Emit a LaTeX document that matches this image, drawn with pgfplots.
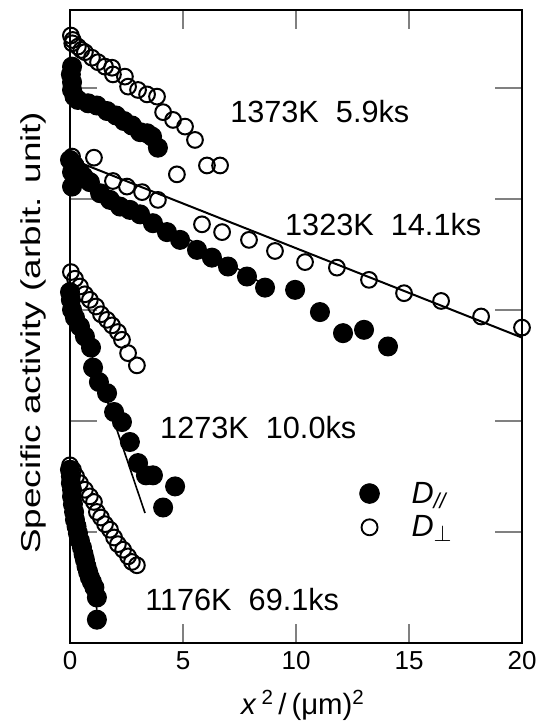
\documentclass[border=0pt]{standalone}
\usepackage{pgfplots}
\pgfplotsset{compat=1.18}
\usepackage{fontspec}
\setmainfont{Liberation Sans}
\usepackage{graphicx}
\begin{document}
\begin{tikzpicture}
\begin{axis}[
  scale only axis, width=339pt, height=474.75pt,
  xmin=0, xmax=20, ymin=0, ymax=5.7,
  clip=false,
  axis line style={line width=1.8pt},
  tick align=inside,
  xtick={0,5,10,15,20}, xticklabels={0,5,10,15,20},
  ytick={1,2,3,4,5}, yticklabels={},
  xtick style={line width=1.8pt, /pgfplots/major tick length=14pt},
  ytick style={line width=1.8pt, /pgfplots/major tick length=20pt},
  /pgf/number format/assume math mode=true,
  xticklabel style={font=\fontsize{19.5}{21}\selectfont, yshift=-3pt},
  xlabel={\textit{x}\,\textsuperscript{2}\,/\,(μm)\textsuperscript{2}},
  xlabel style={font=\fontsize{22}{24}\selectfont, at={(axis description cs:0.515,-0.098)}, anchor=center},
  ylabel={\scalebox{1.35}[1]{Specific activity (arbit. unit)}},
  ylabel style={font=\fontsize{20.5}{22}\selectfont, at={(axis description cs:-0.082,0.49)}, anchor=center},
  legend style={draw=none, fill=none, at={(axis description cs:0.64,0.259)}, anchor=north west, inner sep=0pt, row sep=4pt, font=\fontsize{23}{24}\selectfont},
  legend cell align=left,
]
\coordinate (SW) at (rel axis cs:0,0);
\coordinate (NE) at (rel axis cs:1,1);
\addlegendimage{only marks, mark=*, mark size=7.5pt, mark options={fill=black}}
\addlegendentry{\hspace*{22pt}\textit{D}\textsubscript{\textit{//}}}
\addlegendimage{only marks, mark=o, mark size=6pt, mark options={line width=1.4pt}}
\addlegendentry{\hspace*{22pt}\textit{D}\textsubscript{$\perp$}}

% fit lines
\addplot[forget plot, line width=1.5pt, black] coordinates {(0,4.36) (20,2.75)};
\addplot[forget plot, line width=1.2pt, black] coordinates {(0,4.28) (8.8,3.20)};
\addplot[forget plot, line width=1.2pt, black] coordinates {(0,3.17) (3.32,1.17)};
\addplot[forget plot, line width=1.2pt, black] coordinates {(0,1.56) (1.19,0.30)};

% 1373K open
\addplot[forget plot, only marks, mark=o, mark size=5.9pt, mark options={line width=1.5pt}] coordinates {
(0.04,5.47)(0.10,5.40)(0.12,5.43)(0.35,5.37)(0.50,5.34)(0.66,5.32)(0.97,5.27)(1.24,5.23)(1.55,5.19)(1.86,5.18)(1.90,5.12)(2.43,5.10)(2.57,5.01)(3.01,4.98)(3.41,4.94)(3.85,4.92)(4.12,4.78)(4.56,4.71)(5.09,4.65)(5.53,4.53)(4.73,4.22)(6.06,4.30)(6.64,4.30)};
% 1373K filled
\addplot[forget plot, only marks, mark=*, mark size=7.1pt, mark options={fill=black, line width=0.8pt}] coordinates {
(0.09,5.19)(0.04,5.12)(0.09,5.05)(0.09,4.98)(0.20,4.92)(0.35,4.89)(0.80,4.86)(1.19,4.84)(1.64,4.79)(2.04,4.75)(2.39,4.70)(2.74,4.66)(3.10,4.60)(3.41,4.59)(3.63,4.56)(3.89,4.46)};

% 1323K open
\addplot[forget plot, only marks, mark=o, mark size=5.9pt, mark options={line width=1.5pt}] coordinates {
(0.09,4.38)(1.06,4.37)(1.90,4.16)(2.52,4.11)(3.19,4.06)(3.89,3.99)(5.84,3.77)(6.73,3.70)(7.92,3.63)(9.07,3.53)(10.40,3.43)(11.81,3.38)(13.23,3.27)(14.78,3.15)(16.42,3.08)(18.19,2.94)(20.0,2.84)};
% 1323K filled
\addplot[forget plot, only marks, mark=*, mark size=7.1pt, mark options={fill=black, line width=0.8pt}] coordinates {
(0.0,4.35)(0.2,4.30)(0.09,4.24)(0.09,4.11)(0.44,4.24)(0.6,4.20)(0.88,4.15)(1.33,4.05)(1.77,3.99)(2.21,3.93)(2.65,3.90)(3.10,3.86)(3.67,3.78)(4.29,3.70)(4.87,3.63)(5.62,3.54)(6.28,3.47)(6.99,3.39)(7.83,3.30)(8.63,3.20)(9.96,3.18)(11.06,2.98)(12.08,2.79)(13.01,2.82)(14.07,2.67)};

% 1273K open
\addplot[forget plot, only marks, mark=o, mark size=5.9pt, mark options={line width=1.5pt}] coordinates {
(0.04,3.34)(0.22,3.28)(0.44,3.21)(0.66,3.14)(0.88,3.09)(1.15,3.03)(1.37,2.96)(1.64,2.91)(1.86,2.86)(2.12,2.80)(2.30,2.73)(2.57,2.61)(2.96,2.50)};
% 1273K filled
\addplot[forget plot, only marks, mark=*, mark size=7.1pt, mark options={fill=black, line width=0.8pt}] coordinates {
(0.0,3.16)(0.04,3.09)(0.09,3.00)(0.22,2.93)(0.44,2.85)(0.66,2.76)(0.93,2.66)(1.02,2.48)(1.28,2.35)(1.64,2.25)(1.95,2.08)(2.30,1.99)(2.65,1.81)(3.01,1.62)(3.36,1.51)(3.67,1.51)(4.65,1.41)(4.12,1.22)};

% 1176K open
\addplot[forget plot, only marks, mark=o, mark size=5.9pt, mark options={line width=1.5pt}] coordinates {
(0.0,1.60)(0.13,1.56)(0.27,1.50)(0.44,1.44)(0.66,1.38)(0.88,1.32)(1.06,1.27)(1.19,1.18)(1.37,1.13)(1.55,1.07)(1.77,1.02)(1.95,0.95)(2.12,0.89)(2.35,0.84)(2.57,0.78)(2.74,0.73)(2.96,0.70)};
% 1176K filled
\addplot[forget plot, only marks, mark=*, mark size=7.1pt, mark options={fill=black, line width=0.8pt}] coordinates {
(0.0,1.56)(0.04,1.50)(0.04,1.44)(0.09,1.38)(0.09,1.32)(0.13,1.25)(0.18,1.18)(0.22,1.11)(0.29,1.05)(0.35,0.99)(0.44,0.92)(0.53,0.86)(0.60,0.80)(0.66,0.75)(0.73,0.69)(0.80,0.64)(0.88,0.59)(0.97,0.55)(1.08,0.50)(1.19,0.41)(1.19,0.21)};

\node[anchor=west, inner sep=0pt, font=\fontsize{23}{26}\selectfont] at (axis cs:7.08,4.79) {1373K\ \ 5.9ks};
\node[anchor=west, inner sep=0pt, font=\fontsize{23}{26}\selectfont] at (axis cs:9.51,3.77) {1323K\ \ 14.1ks};
\node[anchor=west, inner sep=0pt, font=\fontsize{23}{26}\selectfont] at (axis cs:3.98,1.94) {1273K\ \ 10.0ks};
\node[anchor=west, inner sep=0pt, font=\fontsize{23}{26}\selectfont] at (axis cs:3.32,0.39) {1176K\ \ 69.1ks};
\end{axis}
\pgfresetboundingbox
\path[use as bounding box] ([xshift=-52.5pt,yshift=-59.25pt]SW) rectangle ([xshift=18pt,yshift=7.5pt]NE);
\end{tikzpicture}
\end{document}
